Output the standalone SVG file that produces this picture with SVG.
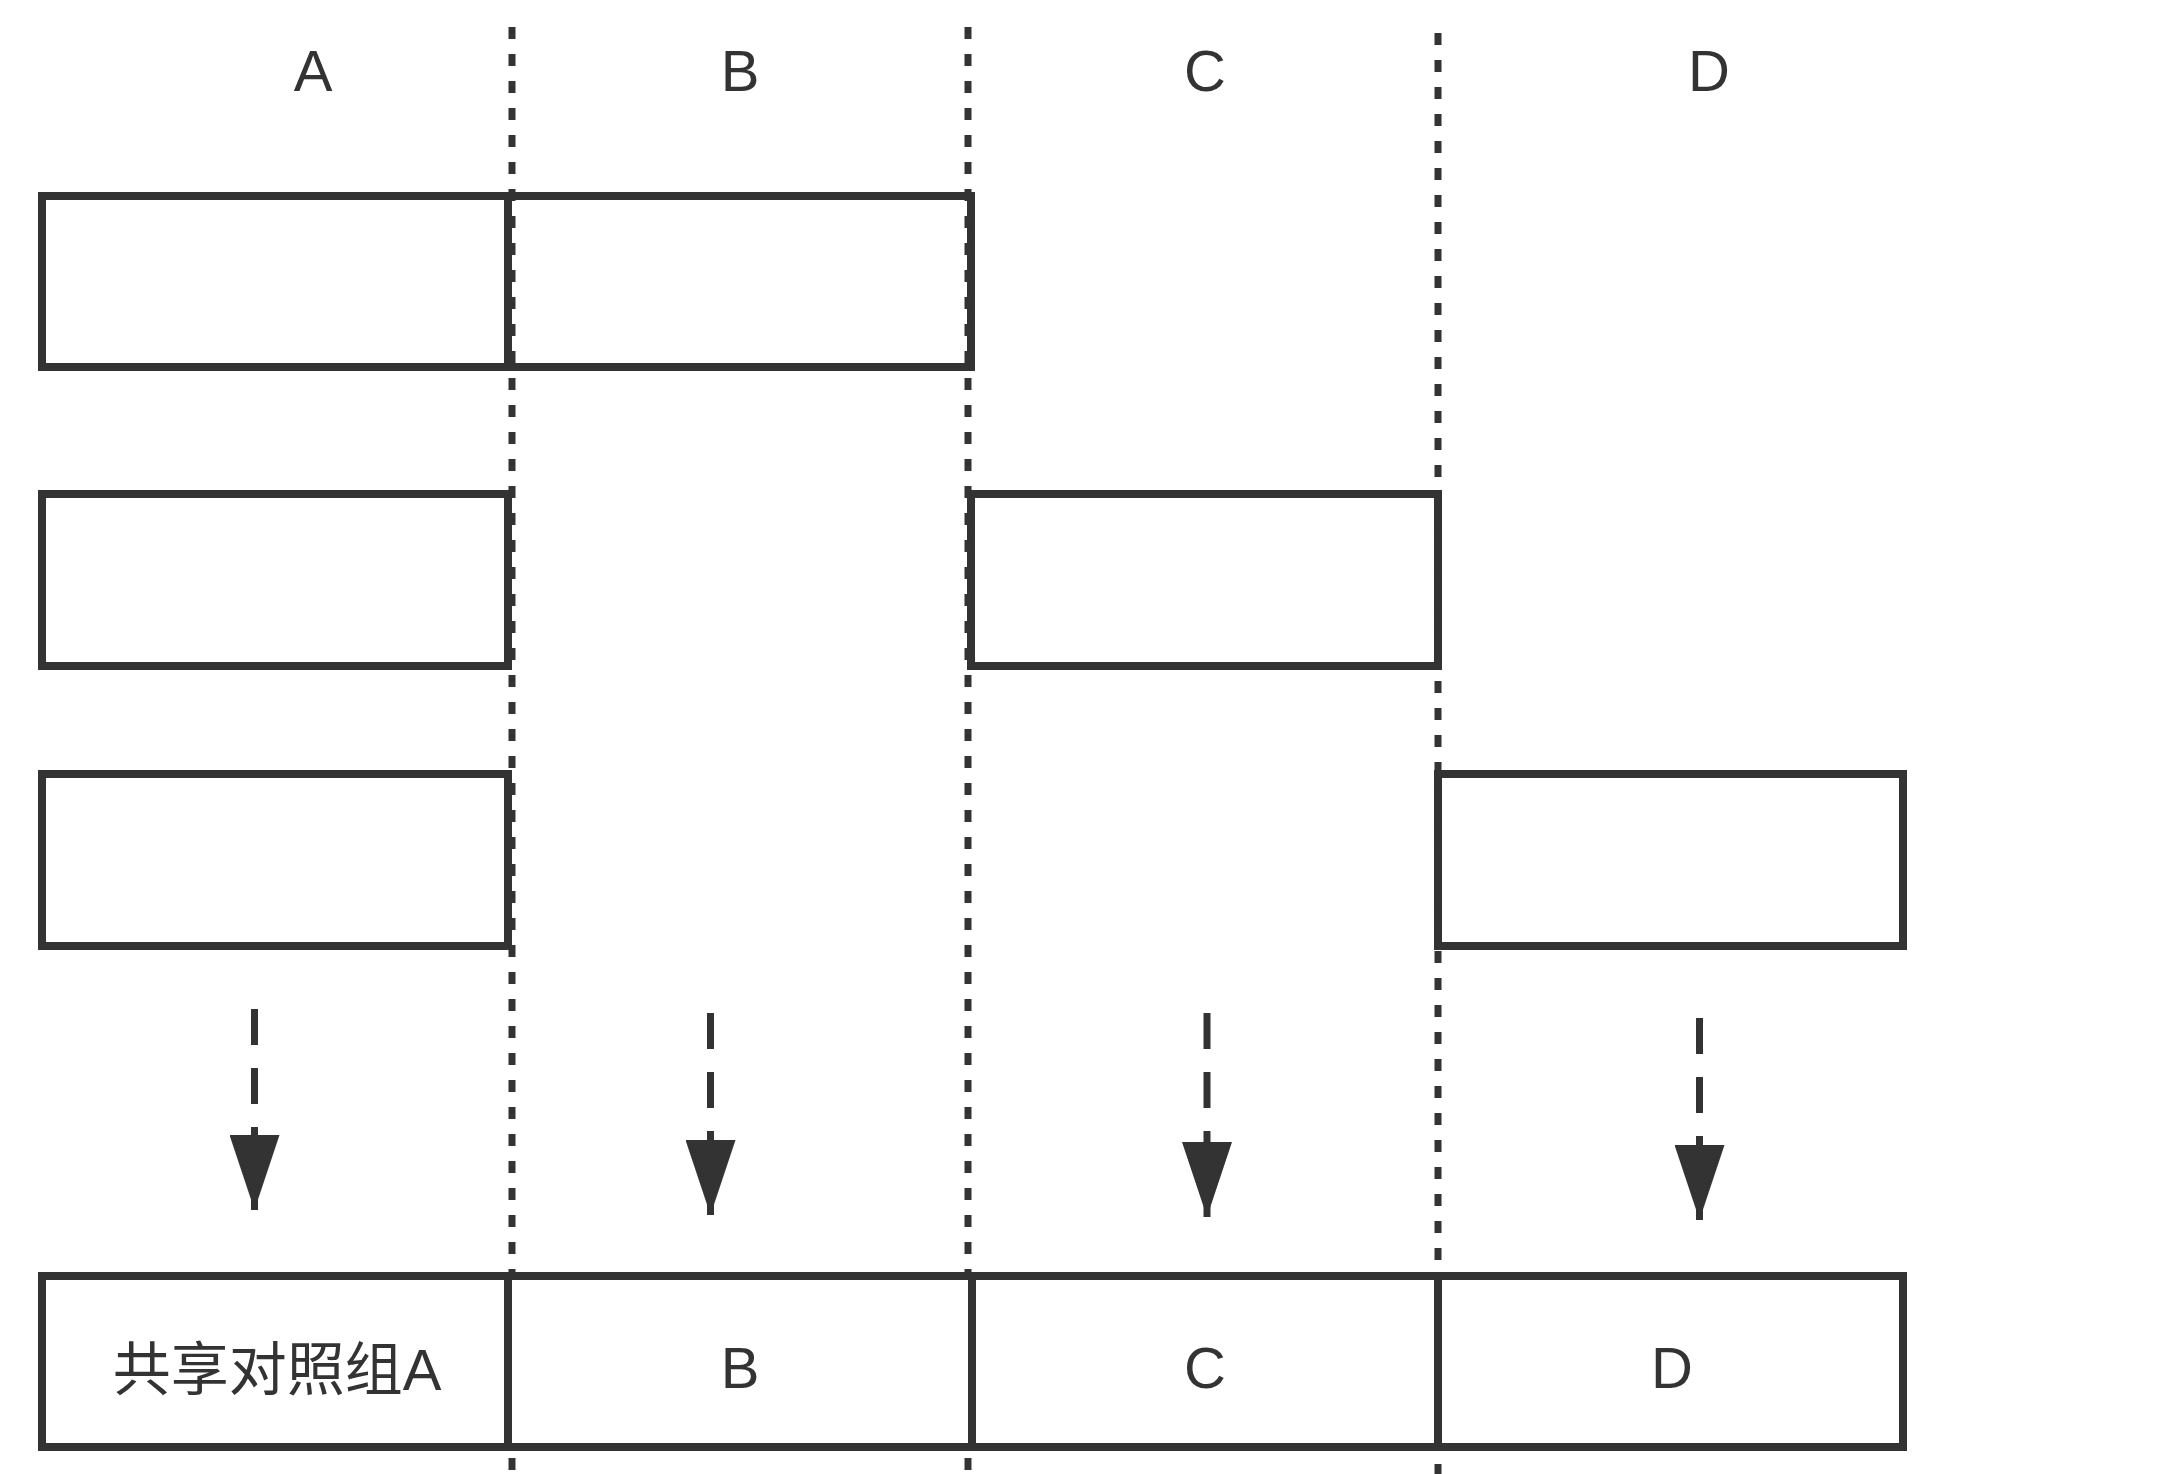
<svg xmlns="http://www.w3.org/2000/svg" width="2180" height="1474" viewBox="0 0 2180 1474">
<style>
  .box { fill: #ffffff; stroke: #333333; stroke-width: 8; }
  .div { stroke: #333333; stroke-width: 7; stroke-dasharray: 12 15; fill: none; }
  .arr { stroke: #333333; stroke-width: 7; stroke-dasharray: 36 23; fill: none; }
  .lbl { font-family: "Liberation Sans", "Noto Sans CJK SC", sans-serif; font-size: 58px; fill: #333333; text-anchor: middle; }
</style>
<defs>
  <marker id="head" markerUnits="userSpaceOnUse" markerWidth="75" markerHeight="50" viewBox="0 0 75 50" refX="75" refY="25" orient="auto">
    <path d="M0,0 L75,25 L0,50 Z" fill="#333333"/>
  </marker>
</defs>
<rect width="2180" height="1474" fill="#ffffff"/>

<g id="headers">
  <text class="lbl" x="313" y="91">A</text>
  <text class="lbl" x="740" y="91">B</text>
  <text class="lbl" x="1205" y="91">C</text>
  <text class="lbl" x="1709" y="91">D</text>
</g>

<g id="row1-A"><rect class="box" x="42" y="196" width="466" height="171"/></g>
<g id="row1-B"><rect class="box" x="508" y="196" width="463" height="171"/></g>
<g id="row2-A"><rect class="box" x="42" y="494" width="466" height="172"/></g>
<g id="row2-C"><rect class="box" x="971" y="494" width="467" height="172"/></g>
<g id="row3-A"><rect class="box" x="42" y="774" width="466" height="172"/></g>
<g id="row3-D"><rect class="box" x="1438" y="774" width="465" height="172"/></g>

<g id="dividers">
  <line class="div" x1="512" y1="27" x2="512" y2="1474"/>
  <line class="div" x1="968" y1="27" x2="968" y2="1474"/>
  <line class="div" x1="1438" y1="33" x2="1438" y2="1474"/>
</g>

<g id="bottom-A"><rect class="box" x="42" y="1276" width="466" height="171"/><text class="lbl" x="277" y="1390">共享对照组A</text></g>
<g id="bottom-B"><rect class="box" x="508" y="1276" width="464" height="171"/><text class="lbl" x="740" y="1388">B</text></g>
<g id="bottom-C"><rect class="box" x="972" y="1276" width="466" height="171"/><text class="lbl" x="1205" y="1388">C</text></g>
<g id="bottom-D"><rect class="box" x="1438" y="1276" width="465" height="171"/><text class="lbl" x="1672" y="1388">D</text></g>

<g id="connectors">
  <line class="arr" x1="254.5" y1="1009" x2="254.5" y2="1210" marker-end="url(#head)"/>
  <line class="arr" x1="710.5" y1="1013" x2="710.5" y2="1215" marker-end="url(#head)"/>
  <line class="arr" x1="1207" y1="1013" x2="1207" y2="1217" marker-end="url(#head)"/>
  <line class="arr" x1="1699.5" y1="1018" x2="1699.5" y2="1220" marker-end="url(#head)"/>
</g>
</svg>
